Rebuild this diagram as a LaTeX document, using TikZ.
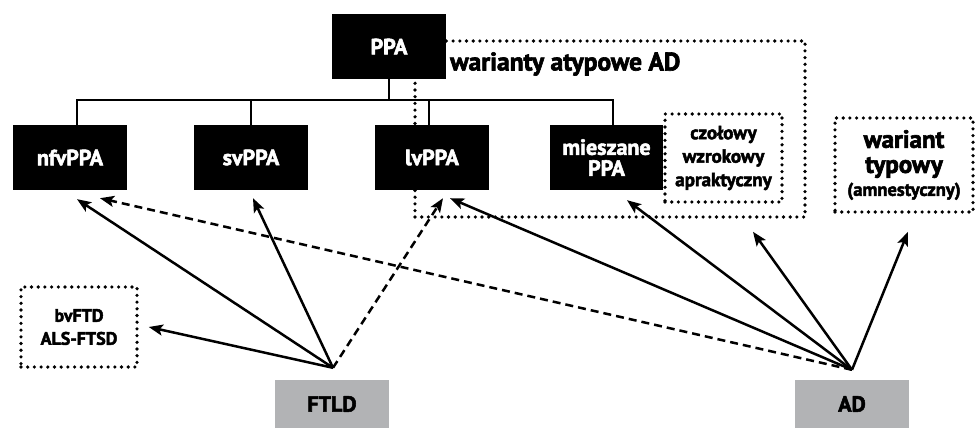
\documentclass[tikz,border=0pt]{standalone}
\usepackage{fontspec}
\setmainfont{PT Sans}[BoldFeatures={FakeBold=2.5}]
\usetikzlibrary{arrows.meta,calc}
\definecolor{ppgray}{RGB}{178,179,181}
\begin{document}
\begin{tikzpicture}[x=1pt,y=1pt,
  every node/.style={font=\bfseries\fontsize{22}{21}\selectfont, inner sep=0pt, align=center},
  blackbox/.style={fill=black, text=white, minimum width=114pt, minimum height=65pt},
  graybox/.style={fill=ppgray, text=black, minimum width=114pt, minimum height=48pt},
  dotline/.style={line width=3.6pt, line cap=round, dash pattern=on 0pt off 6.7pt},
  dotbox/.style={draw, dotline},
  smalltext/.style={font=\bfseries\fontsize{19}{23.5}\selectfont},
  bus/.style={line width=2.2pt},
  conn/.style={line width=2.5pt, -{Stealth[length=14pt,width=11pt,inset=3pt]}},
  dconn/.style={conn, dash pattern=on 8pt off 5pt}]
\useasboundingbox (0,0) rectangle (975,429);

% big dotted region: atypical AD variants
\node[dotbox, minimum width=390pt, minimum height=176pt] (atyp) at (610,300) {};
\node[anchor=west, font=\bfseries\fontsize{25.5}{25}\selectfont] (atyplbl) at (450,365) {warianty atypowe AD};

% PPA tree
\node[blackbox] (ppa) at (389,382.5) {PPA};
\node[blackbox] (nfv) at (70,271.5) {nfvPPA};
\node[blackbox] (sv)  at (251,271.5) {svPPA};
\node[blackbox] (lv)  at (432,271.5) {lvPPA};
\node[blackbox, minimum width=113pt] (mix) at (606.5,271.5) {mieszane\\PPA};

\coordinate (bus) at (0,329);
\draw[bus] ([xshift=7pt]nfv.north) |- ([xshift=6.5pt]mix.north |- bus) -- ([xshift=6.5pt]mix.north);
\draw[bus] (ppa.south) -- (ppa.south |- bus);
\draw[bus] (sv.north) -- (sv.north |- bus);
\draw[bus] ([xshift=-3pt]lv.north) -- ([xshift=-3pt]lv.north |- bus);

% dotted boxes
\node[dotbox, smalltext, minimum width=117pt, minimum height=88pt] (czo) at (723.5,271) {czołowy\\wzrokowy\\apraktyczny};
\node[dotbox, font=\bfseries\fontsize{25}{25}\selectfont, minimum width=138pt, minimum height=94pt] (war) at (904,264)
  {wariant\\typowy\\[-2pt]{\fontsize{18.5}{21}\selectfont (amnestyczny)}};
\node[dotbox, font=\bfseries\fontsize{18}{23}\selectfont, minimum width=116pt, minimum height=80pt] (bv) at (79,102) {bvFTD\\ALS-FTSD};

% causes
\node[graybox] (ftld) at (332,25) {FTLD};
\node[graybox] (ad) at (852,25) {AD};
\coordinate (ftldo) at ([xshift=1pt,yshift=12pt]ftld.north);
\coordinate (ado) at ([yshift=10pt]ad.north);

% arrow targets
\coordinate (tnfvS) at ([xshift=7pt,yshift=-9pt]nfv.south);
\coordinate (tnfvD) at ([xshift=30pt,yshift=-8pt]nfv.south);
\coordinate (tsv) at ([xshift=2pt,yshift=-8pt]sv.south);
\coordinate (tlvD) at ([xshift=11pt,yshift=-8pt]lv.south);
\coordinate (tlvS) at ([xshift=18pt,yshift=-8pt]lv.south);
\coordinate (tmix) at ([xshift=20.5pt,yshift=-10pt]mix.south);
\coordinate (tczo) at ([xshift=29.5pt,yshift=-28pt]czo.south);
\coordinate (twar) at ([xshift=4pt,yshift=-18pt]war.south);
\coordinate (tbv) at ([xshift=10pt]bv.east);

% FTLD connectors
\draw[conn] (ftldo) -- (tnfvS);
\draw[conn] (ftldo) -- (tsv);
\draw[dconn] (ftldo) -- (tlvD);
\draw[conn] (ftldo) -- (tbv);

% AD connectors
\draw[dconn] (ado) -- (tnfvD);
\draw[conn] (ado) -- (tlvS);
\draw[conn] (ado) -- (tmix);
\draw[conn] (ado) -- (tczo);
\draw[conn] (ado) -- (twar);
\end{tikzpicture}
\end{document}
